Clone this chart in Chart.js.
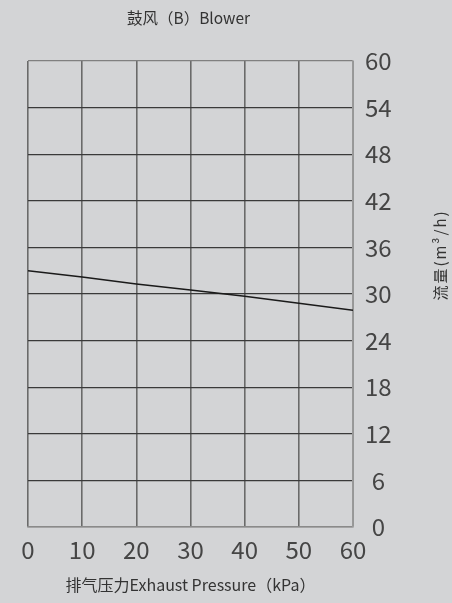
<!DOCTYPE html>
<html>
<head>
<meta charset="utf-8">
<script src="https://cdn.jsdelivr.net/npm/chart.js@4"></script>
<style>
  html, body { margin: 0; padding: 0; background: #d3d4d6; }
  #wrap { width: 452px; height: 603px; }
</style>
</head>
<body>
<div id="wrap"><canvas id="blower-chart"></canvas></div>
<script>
const pressure = [0, 10, 20, 30, 40, 50, 60]
const flow = [33, 32.2, 31.3, 30.5, 29.7, 28.8, 27.9]
const title_text = '鼓风（B）Blower'
const x_title = '排气压力Exhaust Pressure（kPa）'
const y_title = '流量(m³/h)'

const cjk = "'Noto Sans CJK SC', 'Noto Sans', sans-serif"

// top title sits over the plot, and the right axis title reads bottom-to-top,
// so both are drawn here instead of by the built-in title boxes
const titlesPlugin = {
  id: 'titles',
  afterDraw(chart) {
    const ctx = chart.ctx
    const area = chart.chartArea
    ctx.save()
    ctx.fillStyle = '#333'
    ctx.textAlign = 'center'
    ctx.textBaseline = 'middle'
    ctx.font = "15.5px " + cjk
    ctx.fillText(title_text, (area.left + area.right) / 2 - 2, 18)

    ctx.translate(440, (area.top + area.bottom) / 2 - 39)
    ctx.rotate(-Math.PI / 2)
    ctx.font = "15px " + cjk
    ctx.letterSpacing = '2px'
    ctx.fillText(y_title, 0, 0)
    ctx.restore()
  }
}

new Chart(
  document.getElementById('blower-chart'),
  {
    type: 'line',
    plugins: [titlesPlugin],
    data: {
      datasets: [{
        data: pressure.map((p, i) => ({ x: p, y: flow[i] })),
        borderColor: '#1a1a1a',
        borderWidth: 1.5,
        pointRadius: 0,
        tension: 0,
      }]
    },
    options: {
      animation: false,
      responsive: true,
      maintainAspectRatio: false,
      layout: { padding: { left: 28, right: 0, top: 61, bottom: 8 } },
      plugins: {
        legend: { display: false },
        tooltip: { enabled: false },
      },
      scales: {
        x: {
          type: 'linear',
          min: 0,
          max: 60,
          ticks: {
            stepSize: 10,
            color: '#454545',
            font: { family: cjk, size: 24 },
            padding: 8,
            maxRotation: 0,
          },
          grid: { color: '#6a6a6a', lineWidth: 1.6, drawTicks: false },
          border: { color: '#8a8a8a', width: 1.5 },
          title: {
            display: true,
            text: x_title,
            color: '#333',
            font: { family: cjk, size: 16 },
            padding: { top: 4, bottom: 0 },
          },
        },
        y: {
          position: 'right',
          min: 0,
          max: 60,
          afterFit(scale) { scale.width = 99 },
          ticks: {
            stepSize: 6,
            color: '#454545',
            font: { family: cjk, size: 24 },
            padding: 12,
            crossAlign: 'center',
          },
          grid: {
            color: ctx => (ctx.tick && (ctx.tick.value === 0 || ctx.tick.value === 60)) ? '#808080' : '#3a3a3a',
            lineWidth: 1.2,
            drawTicks: false,
          },
          border: { color: '#999', width: 1.5 },
        },
      },
    },
  }
);
</script>
</body>
</html>
